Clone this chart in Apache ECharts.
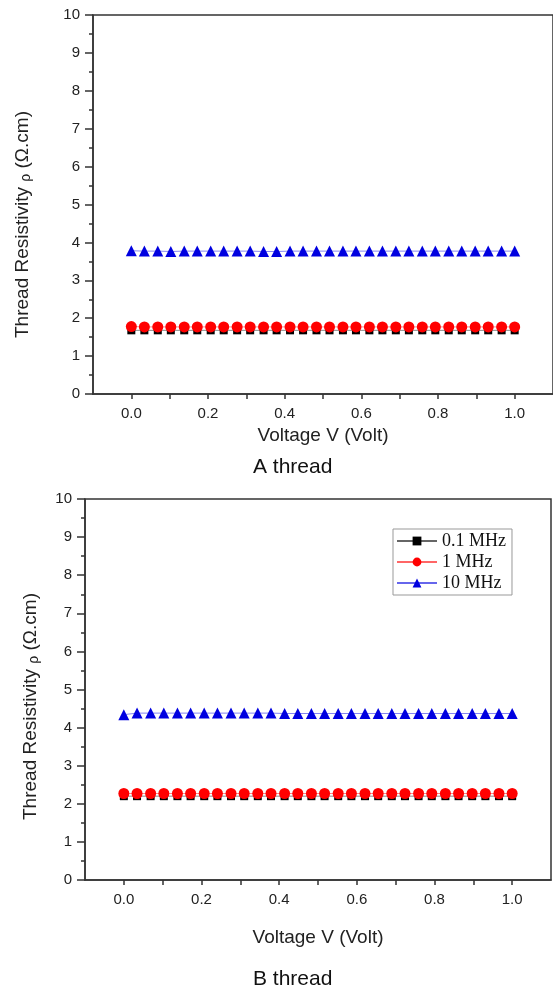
<!DOCTYPE html>
<html>
<head>
<meta charset="utf-8">
<script src="https://cdn.jsdelivr.net/npm/echarts@6/dist/echarts.min.js"></script>
<style>
  html, body { margin: 0; padding: 0; background: #fff; }
  #chart { width: 553px; height: 987px; }
</style>
</head>
<body>
<div id="chart"></div>
<script>
// voltage points (30 steps from 0 to 1 V)
var voltage = [0, 0.034, 0.069, 0.103, 0.138, 0.172, 0.207, 0.241, 0.276, 0.310,
  0.345, 0.379, 0.414, 0.448, 0.483, 0.517, 0.552, 0.586, 0.621, 0.655,
  0.690, 0.724, 0.759, 0.793, 0.828, 0.862, 0.897, 0.931, 0.966, 1.0];

var seriesNames = ['0.1 MHz', '1 MHz', '10 MHz'];

// A thread resistivity (Ω.cm)
var a01 = [1.68, 1.68, 1.68, 1.68, 1.68, 1.68, 1.68, 1.68, 1.68, 1.68,
  1.68, 1.68, 1.68, 1.68, 1.68, 1.68, 1.68, 1.68, 1.68, 1.68,
  1.68, 1.68, 1.68, 1.68, 1.68, 1.68, 1.68, 1.68, 1.68, 1.68];
var a1 = [1.78, 1.77, 1.77, 1.77, 1.77, 1.77, 1.77, 1.77, 1.77, 1.77,
  1.77, 1.77, 1.77, 1.77, 1.77, 1.77, 1.77, 1.77, 1.77, 1.77,
  1.77, 1.77, 1.77, 1.77, 1.77, 1.77, 1.77, 1.77, 1.77, 1.77];
var a10 = [3.78, 3.77, 3.77, 3.76, 3.77, 3.77, 3.77, 3.77, 3.77, 3.77,
  3.76, 3.76, 3.77, 3.77, 3.77, 3.77, 3.77, 3.77, 3.77, 3.77,
  3.77, 3.77, 3.77, 3.77, 3.77, 3.77, 3.77, 3.77, 3.77, 3.77];

// B thread resistivity (Ω.cm)
var b01 = [2.20, 2.20, 2.20, 2.20, 2.20, 2.20, 2.20, 2.20, 2.20, 2.20,
  2.20, 2.20, 2.20, 2.20, 2.20, 2.20, 2.20, 2.20, 2.20, 2.20,
  2.20, 2.20, 2.20, 2.20, 2.20, 2.20, 2.20, 2.20, 2.20, 2.20];
var b1 = [2.27, 2.27, 2.27, 2.27, 2.27, 2.27, 2.27, 2.27, 2.27, 2.27,
  2.27, 2.27, 2.27, 2.27, 2.27, 2.27, 2.27, 2.27, 2.27, 2.27,
  2.27, 2.27, 2.27, 2.27, 2.27, 2.27, 2.27, 2.27, 2.27, 2.27];
var b10 = [4.34, 4.38, 4.38, 4.38, 4.38, 4.38, 4.38, 4.38, 4.38, 4.38,
  4.38, 4.38, 4.37, 4.37, 4.37, 4.37, 4.37, 4.37, 4.37, 4.37,
  4.37, 4.37, 4.37, 4.37, 4.37, 4.37, 4.37, 4.37, 4.37, 4.37];

function pairs(ys) {
  return voltage.map(function (v, i) { return [v, ys[i]]; });
}

var font = 'Arial, "Liberation Sans", sans-serif';
var axisColor = '#333';

function xAxisOf(gi, gap) {
  return {
    type: 'value', gridIndex: gi, min: -0.1, max: 1.1, interval: 0.1,
    name: 'Voltage V (Volt)', nameLocation: 'middle', nameGap: gap,
    nameTextStyle: { fontSize: 19, color: '#222', fontFamily: font },
    axisLine: { onZero: false, lineStyle: { color: axisColor, width: 1.5 } },
    axisTick: { length: 5, lineStyle: { color: axisColor, width: 1.5 } },
    axisLabel: {
      fontSize: 15, color: '#222', fontFamily: font, margin: 12,
      showMinLabel: false, showMaxLabel: false,
      formatter: function (v) {
        var k = Math.round(v * 10);
        if (k < 0 || k > 10 || k % 2 !== 0) return '';
        return (k / 10).toFixed(1);
      }
    },
    splitLine: { show: false }
  };
}

function yAxisOf(gi, gap, shift) {
  return {
    type: 'value', gridIndex: gi, min: 0, max: 10, interval: 1,
    name: '{a|Thread Resistivity }{b|ρ}{a| (Ω.cm)}', nameLocation: 'middle', nameGap: gap,
    nameTextStyle: {
      color: '#222', fontFamily: font, padding: [0, shift, 0, 0],
      rich: {
        a: { fontSize: 19, color: '#222', fontFamily: font },
        b: { fontSize: 14, color: '#222', fontFamily: font, padding: [6, 0, 0, 0] }
      }
    },
    axisLine: { show: true, onZero: false, lineStyle: { color: axisColor, width: 1.5 } },
    axisTick: { length: 8, lineStyle: { color: axisColor, width: 1.5 } },
    minorTick: { show: true, splitNumber: 2, length: 4, lineStyle: { color: axisColor, width: 1.5 } },
    axisLabel: { fontSize: 15, color: '#222', fontFamily: font, margin: 13 },
    splitLine: { show: false }
  };
}

var styles = [
  { color: '#000', symbol: 'rect', size: 8 },
  { color: '#f00', symbol: 'circle', size: 11 },
  { color: '#0000e0', symbol: 'triangle', size: 11 }
];

function lineSeries(idx, gi, ys) {
  var s = styles[idx];
  return {
    name: seriesNames[idx], type: 'line', xAxisIndex: gi, yAxisIndex: gi,
    data: pairs(ys), symbol: s.symbol, symbolSize: s.size, showSymbol: true,
    itemStyle: { color: s.color },
    lineStyle: { color: s.color, width: 0.8, opacity: 0.6 },
    animation: false
  };
}

var chart = echarts.init(document.getElementById('chart'));
chart.setOption({
  backgroundColor: '#fff',
  animation: false,
  title: [
    { text: 'A thread', left: 248, top: 452, textStyle: { fontSize: 21, fontWeight: 'normal', color: '#111', fontFamily: font } },
    { text: 'B thread', left: 248, top: 964, textStyle: { fontSize: 21, fontWeight: 'normal', color: '#111', fontFamily: font } }
  ],
  grid: [
    { left: 93, top: 15, width: 462, height: 379, show: true, borderColor: axisColor, borderWidth: 1.5 },
    { left: 85, top: 499, width: 466, height: 381, show: true, borderColor: axisColor, borderWidth: 1.5 }
  ],
  legend: {
    data: seriesNames,
    orient: 'vertical', left: 393, top: 529, itemGap: 3,
    itemWidth: 40, itemHeight: 11,
    borderColor: '#999', borderWidth: 1, padding: [3, 6, 3, 3],
    textStyle: { fontSize: 18, color: '#111', fontFamily: '"Liberation Serif", "Times New Roman", serif' }
  },
  xAxis: [xAxisOf(0, 32), xAxisOf(1, 48)],
  yAxis: [yAxisOf(0, 60, 40), yAxisOf(1, 44, 34)],
  series: [
    lineSeries(0, 0, a01), lineSeries(1, 0, a1), lineSeries(2, 0, a10),
    lineSeries(0, 1, b01), lineSeries(1, 1, b1), lineSeries(2, 1, b10)
  ]
});
</script>
</body>
</html>
